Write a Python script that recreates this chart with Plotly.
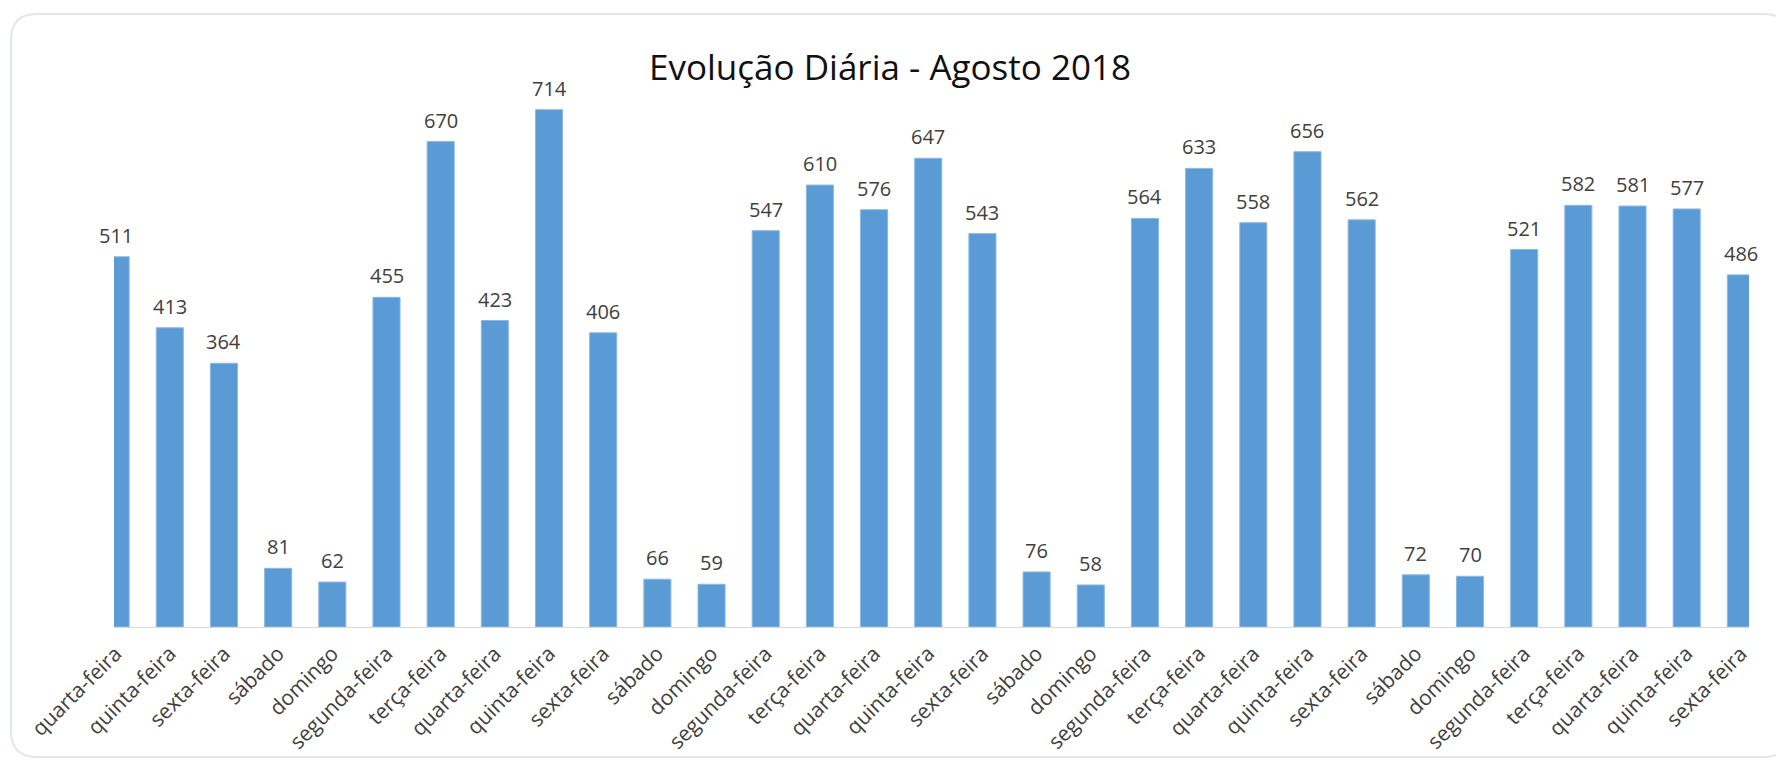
import plotly.graph_objects as go

dias = [
    "quarta-feira", "quinta-feira", "sexta-feira", "sábado", "domingo",
    "segunda-feira", "terça-feira", "quarta-feira", "quinta-feira", "sexta-feira",
    "sábado", "domingo", "segunda-feira", "terça-feira", "quarta-feira",
    "quinta-feira", "sexta-feira", "sábado", "domingo", "segunda-feira",
    "terça-feira", "quarta-feira", "quinta-feira", "sexta-feira", "sábado",
    "domingo", "segunda-feira", "terça-feira", "quarta-feira", "quinta-feira",
    "sexta-feira",
]
dia_mes = list(range(1, 32))
valores = [
    511, 413, 364, 81, 62, 455, 670, 423, 714, 406,
    66, 59, 547, 610, 576, 647, 543, 76, 58, 564,
    633, 558, 656, 562, 72, 70, 521, 582, 581, 577,
    486,
]

# page body has an 8px margin, so the figure is a bit smaller than the window
OFF = 8
W, H = 1784 - OFF, 764 - OFF
ML, MR, MT, MB = 106, 35, 72, 137
pw, ph = W - ML - MR, H - MT - MB


def px2paper(x, y):
    # x, y in window pixels
    x, y = x - OFF, y - OFF
    return (x - ML) / pw, (H - MB - y) / ph


def rounded_box(x0, y0, x1, y1, r):
    pts = [
        ("M", x0 + r, y0), ("L", x1 - r, y0), ("Q", x1, y0, x1, y0 + r),
        ("L", x1, y1 - r), ("Q", x1, y1, x1 - r, y1), ("L", x0 + r, y1),
        ("Q", x0, y1, x0, y1 - r), ("L", x0, y0 + r), ("Q", x0, y0, x0 + r, y0),
    ]
    out = []
    for p in pts:
        coords = []
        for i in range(1, len(p), 2):
            a, b = px2paper(p[i], p[i + 1])
            coords.append(f"{a:.5f},{b:.5f}")
        out.append(p[0] + " " + " ".join(coords))
    return " ".join(out) + " Z"


fig = go.Figure(go.Bar(
    x=dia_mes,
    y=valores,
    cliponaxis=True,
    marker=dict(color="#5B9BD5", line=dict(color="#8ab8e6", width=1)),
))

for d, v in zip(dia_mes, valores):
    fig.add_annotation(
        x=d, y=v, text=str(v), showarrow=False,
        yanchor="bottom", yshift=6,
        font=dict(family="Open Sans", size=20, color="#404040"),
    )

fig.update_layout(
    width=W, height=H,
    margin=dict(l=ML, r=MR, t=MT, b=MB),
    paper_bgcolor="white",
    plot_bgcolor="white",
    bargap=0.5,
    showlegend=False,
    title=dict(
        text="Evolução Diária - Agosto 2018",
        x=(890 - OFF - ML) / pw, xref="paper", xanchor="center",
        y=1 - (68 - OFF) / H, yanchor="middle",
        font=dict(family="Open Sans", size=35, color="#111111"),
    ),
    xaxis=dict(
        tickmode="array", tickvals=dia_mes, ticktext=dias,
        tickangle=-45, range=[0.97, 31.15],
        showline=True, linecolor="#d9d9d9", linewidth=1,
        showgrid=False, zeroline=False, ticks="",
        ticklabelstandoff=5,
        tickfont=dict(family="Open Sans", size=21, color="#404040"),
        automargin=False,
    ),
    yaxis=dict(range=[0, 755], visible=False, showgrid=False),
    shapes=[dict(
        type="path", xref="paper", yref="paper",
        path=rounded_box(11, 14, 1790, 757, 26),
        line=dict(color="#e2e6ea", width=2),
        layer="below",
    )],
)

fig.write_html("out.html")
